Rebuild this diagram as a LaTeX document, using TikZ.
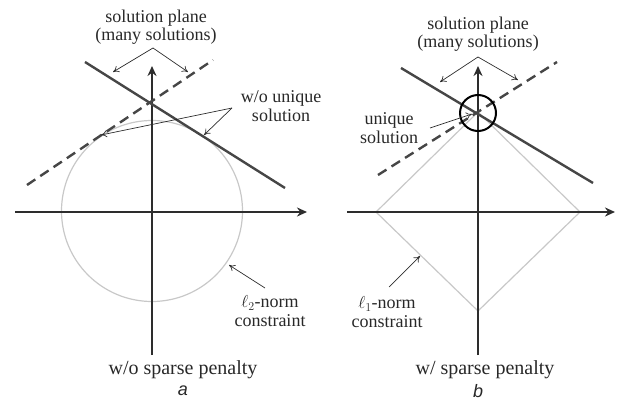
\documentclass[tikz,border=0pt]{standalone}
\usepackage{fontspec}
\setmainfont{Liberation Serif}
\newfontfamily\tagfont{Liberation Sans}
\usetikzlibrary{arrows.meta}
\definecolor{axisgray}{RGB}{45,45,45}
\definecolor{planegray}{RGB}{70,70,70}
\definecolor{normgray}{RGB}{200,200,200}
\definecolor{textgray}{RGB}{40,40,40}
\begin{document}
\begin{tikzpicture}[x=1pt,y=-1pt,
    axis/.style={draw=axisgray,line width=2.4pt,-{Stealth[length=10pt,width=9pt]}},
    plane/.style={draw=planegray,line width=2.4pt},
    planedash/.style={plane,dash pattern=on 10pt off 6pt},
    normline/.style={draw=normgray,line width=1.2pt},
    note/.style={draw=axisgray,line width=0.7pt,-{To[length=6pt,width=7pt]}},
    label/.style={text=textgray,inner sep=0pt,align=center,font=\fontsize{18}{18.5}\selectfont},
    caption/.style={text=textgray,inner sep=0pt,font=\fontsize{20}{22}\selectfont},
    panel/.style={text=textgray,inner sep=0pt,font=\fontsize{18}{20}\selectfont\tagfont\itshape}]
  \useasboundingbox (0,0) rectangle (620,403);

  % ---- panel a ----
  \coordinate (a-o) at (152,211);
  \coordinate (a-xl) at (15,212);
  \coordinate (a-xr) at (307,212);
  \coordinate (a-yb) at (152,355);
  \coordinate (a-yt) at (152,66);
  \coordinate (a-s1) at (85,62);
  \coordinate (a-s2) at (285,188);
  \coordinate (a-d1) at (27,185);
  \coordinate (a-d2) at (213,60);
  % Constraint ball
  \draw[normline] (a-o) circle[radius=90.5pt];
  % Axes
  \draw[axis] (a-xl) -- (a-xr);
  \draw[axis] (a-yb) -- (a-yt);
  % Solution planes
  \draw[plane] (a-s1) -- (a-s2);
  \draw[planedash] (a-d1) -- (a-d2);
  % Labels
  \node[label] (planeA) at (156,27) {solution plane\\(many solutions)};
  \node[label] (uniqA) at (281,106) {w/o unique\\solution};
  \node[label] (normA) at (270,311) {$\ell_2$-norm\\constraint};
  \node[caption] (penA) at (183,370) {w/o sparse penalty};
  \node[panel] (tagA) at (183,391) {a};
  % Pointers
  \coordinate (a-fork) at (153,48);
  \draw[note] (a-fork) -- (113,72);
  \draw[note] (a-fork) -- (188,72);
  \coordinate (a-wo) at (232,108);
  \draw[note] (a-wo) -- (101,135);
  \draw[note] (a-wo) -- (204,135);
  \draw[note] (265,288) -- (229,265);

  % ---- panel b ----
  \coordinate (b-o) at (478,212);
  \coordinate (b-xl) at (347,212);
  \coordinate (b-xr) at (615,212);
  \coordinate (b-yb) at (478,355);
  \coordinate (b-yt) at (478,66);
  \coordinate (b-s1) at (401,68);
  \coordinate (b-s2) at (593,183);
  \coordinate (b-d1) at (378,175);
  \coordinate (b-d2) at (557,62);
  % Constraint diamond
  \draw[normline] (376,212) -- (478,112) -- (580,212) -- (478,311) -- cycle;
  % Axes
  \draw[axis] (b-xl) -- (b-xr);
  \draw[axis] (b-yb) -- (b-yt);
  % Solution planes
  \draw[plane] (b-s1) -- (b-s2);
  \draw[planedash] (b-d1) -- (b-d2);
  % Unique solution marker
  \node[draw=black,line width=2pt,circle,minimum size=36pt,inner sep=0pt] (hit) at (478,113) {};
  % Labels
  \node[label] (planeB) at (478,34) {solution plane\\(many solutions)};
  \node[label] (uniqB) at (389,128) {unique\\solution};
  \node[label] (normB) at (387,312) {$\ell_1$-norm\\constraint};
  \node[caption] (penB) at (485,370) {w/ sparse penalty};
  \node[panel] (tagB) at (478,391) {b};
  % Pointers
  \coordinate (b-fork) at (478,57);
  \draw[note] (b-fork) -- (440,82);
  \draw[note] (b-fork) -- (518,80);
  \draw[note] (430,128) -- (472,114);
  \draw[note] (389,287) -- (420,256);
\end{tikzpicture}
\end{document}
